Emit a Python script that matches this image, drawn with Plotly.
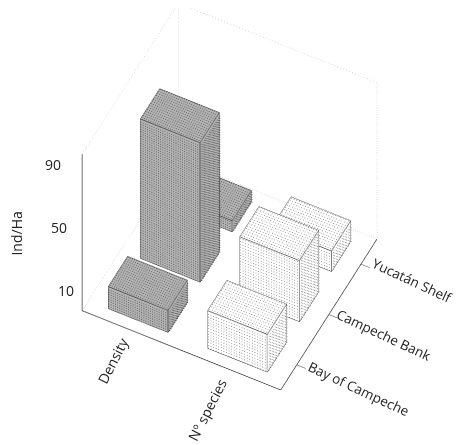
import numpy as np
import plotly.graph_objects as go

measures = ["Density", "Nº species"]
regions = ["Bay of Campeche", "Campeche Bank", "Yucatán Shelf"]
density = [14, 89, 7]
species = [24, 39, 13]
z_ticks = [10, 50, 90]

XR = [-0.5, 1.5]
YR = [-0.5, 2.5]
ZR = [0, 100]
HX = 0.3
HY = 0.3
FACES_I = [0, 0, 4, 4, 0, 0, 1, 1, 2, 2, 3, 3]
FACES_J = [1, 2, 5, 6, 1, 5, 2, 6, 3, 7, 0, 4]
FACES_K = [2, 3, 6, 7, 5, 4, 6, 5, 7, 6, 4, 7]
EDGE_PATH = [0, 1, 2, 3, 0, 4, 5, 6, 7, 4, None, 1, 5, None, 2, 6, None, 3, 7]


def bar_traces(xc, yc, h, color):
    xs = [xc - HX, xc + HX, xc + HX, xc - HX] * 2
    ys = [yc - HY, yc - HY, yc + HY, yc + HY] * 2
    zs = [0] * 4 + [h] * 4
    mesh = go.Mesh3d(x=xs, y=ys, z=zs, i=FACES_I, j=FACES_J, k=FACES_K, color=color, flatshading=True,
                     lighting=dict(ambient=1, diffuse=0, specular=0, fresnel=0, roughness=1),
                     hoverinfo="skip", showscale=False)
    pick = lambda arr: [None if p is None else arr[p] for p in EDGE_PATH]
    edges = go.Scatter3d(x=pick(xs), y=pick(ys), z=pick(zs), mode="lines",
                         line=dict(color="#303030", width=1.5), hoverinfo="skip", showlegend=False)
    return [mesh, edges]


def stipple(xc, yc, h, color, size, dx, dy, dz):
    """Fill texture: dots on the three visible faces of one bar."""
    gx = np.arange(xc - HX + dx / 2, xc + HX, dx)
    gy = np.arange(yc - HY + dy / 2, yc + HY, dy)
    gz = np.arange(dz / 2, h, dz)
    eps_x, eps_y, eps_z = 0.012, 0.018, 0.5
    A, B = np.meshgrid(gx, gy)
    px, py, pz = [A.ravel()], [B.ravel()], [np.full(A.size, h + eps_z)]
    A, B = np.meshgrid(gx, gz)
    px.append(A.ravel()); py.append(np.full(A.size, yc - HY - eps_y)); pz.append(B.ravel())
    A, B = np.meshgrid(gy, gz)
    px.append(np.full(A.size, xc + HX + eps_x)); py.append(A.ravel()); pz.append(B.ravel())
    return go.Scatter3d(x=np.concatenate(px), y=np.concatenate(py), z=np.concatenate(pz), mode="markers",
                        marker=dict(size=size, color=color, line=dict(width=0)), hoverinfo="skip", showlegend=False)


traces = []
for ri, v in enumerate(density):
    traces += bar_traces(0, ri, v, "#b4b4b4")
    traces.append(stipple(0, ri, v, "#555555", 0.6, 0.022, 0.04, 1.5))
for ri, v in enumerate(species):
    traces += bar_traces(1, ri, v, "#ffffff")
    traces.append(stipple(1, ri, v, "#666666", 0.5, 0.026, 0.046, 1.8))


def frame(xs, ys, zs, color, width, dash="solid"):
    return go.Scatter3d(x=xs, y=ys, z=zs, mode="lines", line=dict(color=color, width=width, dash=dash),
                        hoverinfo="skip", showlegend=False)


x0, x1 = XR
y0, y1 = YR
z0, z1 = ZR
traces.append(frame([x0, x0, x1, x1], [y0, y0, y0, y1], [z1, z0, z0, z0], "#404040", 1.5))
traces.append(frame([x0, x0, x1, x1], [y0, y1, y1, y1], [z1, z1, z1, z0], "#bdbdbd", 1, "dot"))
traces.append(frame([x0, x0, x1], [y0, y1, y1], [z0, z0, z0], "#bdbdbd", 1, "dot"))
traces.append(frame([x0, x0], [y1, y1], [z0, z1], "#bdbdbd", 1, "dot"))

FONT = dict(family="Open Sans", size=14, color="#222222")
REGION_FONT = dict(FONT, size=13.5)
Z_XSHIFT = [-6, -13, -19]
REGION_SHIFT = [(62, -24), (55, -20), (52, -17)]
MEASURE_SHIFT = [(-19, -30), (-24, -39)]
ann = []
for t, sx in zip(z_ticks, Z_XSHIFT):
    ann.append(dict(x=x0, y=y0, z=t, text=str(t), showarrow=False, xanchor="right", xshift=sx, yshift=5, font=FONT))
ann.append(dict(x=x0, y=y0, z=50, text="Ind/Ha", showarrow=False, textangle=-90, xshift=-66, yshift=-1, font=FONT))
for i, m in enumerate(measures):
    sx, sy = MEASURE_SHIFT[i]
    ann.append(dict(x=i, y=y0, z=z0, text=m, showarrow=False, textangle=-63, xshift=sx, yshift=sy, font=FONT))
for i, r in enumerate(regions):
    sx, sy = REGION_SHIFT[i]
    ann.append(dict(x=x1, y=i, z=z0, text=r, showarrow=False, textangle=25, xshift=sx, yshift=sy, font=REGION_FONT))

axis = dict(showgrid=False, showline=False, zeroline=False, showbackground=False, showticklabels=False,
            showspikes=False, title=dict(text=""), ticks="")

fig = go.Figure(traces)
fig.update_layout(
    width=461, height=445, margin=dict(l=0, r=0, t=0, b=0), showlegend=False,
    paper_bgcolor="white",
    scene=dict(
        domain=dict(x=[0, 1], y=[0, 1]),
        xaxis=dict(axis, range=XR),
        yaxis=dict(axis, range=YR, tickvals=[0, 1, 2], ticks="outside", ticklen=0.4, tickcolor="#404040", tickwidth=1),
        zaxis=dict(axis, range=ZR),
        aspectmode="manual",
        aspectratio=dict(x=1, y=0.96, z=1.15),
        camera=dict(eye=dict(x=0.64, y=-1.179, z=1.4865), center=dict(x=0.09, y=-0.089, z=-0.0935),
                    up=dict(x=0, y=0, z=1), projection=dict(type="orthographic")),
        annotations=ann,
    ),
)
fig.write_html("out.html")
